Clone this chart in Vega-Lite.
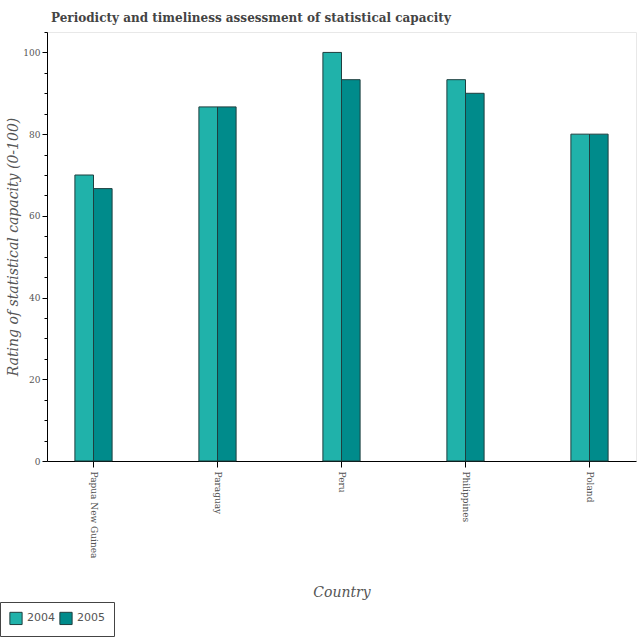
{
  "$schema": "https://vega.github.io/schema/vega-lite/v6.json",
  "width": 589,
  "height": 429,
  "autosize": {"type": "none"},
  "padding": {"left": 47, "top": 32, "right": 4, "bottom": 179},
  "title": {
    "text": "Periodicty and timeliness assessment of statistical capacity",
    "font": "DejaVu Serif",
    "fontSize": 12,
    "fontWeight": "bold",
    "color": "#444444",
    "anchor": "start",
    "frame": "group",
    "dx": 4,
    "offset": 7
  },
  "config": {
    "view": {"stroke": "#e8e8e8"},
    "axis": {"labelFont": "DejaVu Serif", "titleFont": "DejaVu Serif", "labelColor": "#555555", "titleColor": "#555555", "domainColor": "#000000", "tickColor": "#000000", "grid": false}
  },
  "data": {
    "values": [
      {"country": "Papua New Guinea", "year": "2004", "value": 70},
      {"country": "Papua New Guinea", "year": "2005", "value": 66.67},
      {"country": "Paraguay", "year": "2004", "value": 86.67},
      {"country": "Paraguay", "year": "2005", "value": 86.67},
      {"country": "Peru", "year": "2004", "value": 100},
      {"country": "Peru", "year": "2005", "value": 93.33},
      {"country": "Philippines", "year": "2004", "value": 93.33},
      {"country": "Philippines", "year": "2005", "value": 90},
      {"country": "Poland", "year": "2004", "value": 80},
      {"country": "Poland", "year": "2005", "value": 80}
    ]
  },
  "mark": {"type": "bar", "stroke": "#1f3f3f", "strokeWidth": 1},
  "encoding": {
    "x": {
      "field": "country",
      "type": "nominal",
      "sort": null,
      "scale": {"paddingInner": 0.7, "paddingOuter": 0.225},
      "axis": {
        "title": "Country",
        "titleFontStyle": "italic",
        "titleFontWeight": "normal",
        "titleFontSize": 14,
        "labelAngle": 90,
        "labelFontSize": 9,
        "labelPadding": 4,
        "tickSize": 6,
        "titleY": 131,
        "titleBaseline": "middle"
      }
    },
    "xOffset": {
      "field": "year",
      "type": "nominal",
      "scale": {"paddingOuter": 0, "paddingInner": 0}
    },
    "y": {
      "field": "value",
      "type": "quantitative",
      "scale": {"domain": [0, 105], "nice": false},
      "axis": {
        "title": "Rating of statistical capacity (0-100)",
        "titleFontStyle": "italic",
        "titleFontWeight": "normal",
        "titleFontSize": 14,
        "values": [0, 5, 10, 15, 20, 25, 30, 35, 40, 45, 50, 55, 60, 65, 70, 75, 80, 85, 90, 95, 100, 105],
        "labelExpr": "datum.value % 20 === 0 ? datum.label : ''",
        "tickSize": {"condition": {"test": "datum.value % 20 === 0", "value": 5}, "value": 3},
        "labelFontSize": 9,
        "titlePadding": 2
      }
    },
    "color": {
      "field": "year",
      "type": "nominal",
      "scale": {"domain": ["2004", "2005"], "range": ["#20B2AA", "#008B8B"]},
      "legend": {
        "title": null,
        "orient": "none",
        "legendX": -47,
        "legendY": 570,
        "direction": "horizontal",
        "symbolType": "square",
        "symbolSize": 150,
        "symbolStrokeColor": "#1f3f3f",
        "symbolStrokeWidth": 1,
        "symbolOpacity": 1,
        "labelFont": "DejaVu Sans",
        "labelFontSize": 11,
        "labelColor": "#555555",
        "strokeColor": "#444444",
        "padding": 9,
        "columnPadding": 2
      }
    }
  }
}
